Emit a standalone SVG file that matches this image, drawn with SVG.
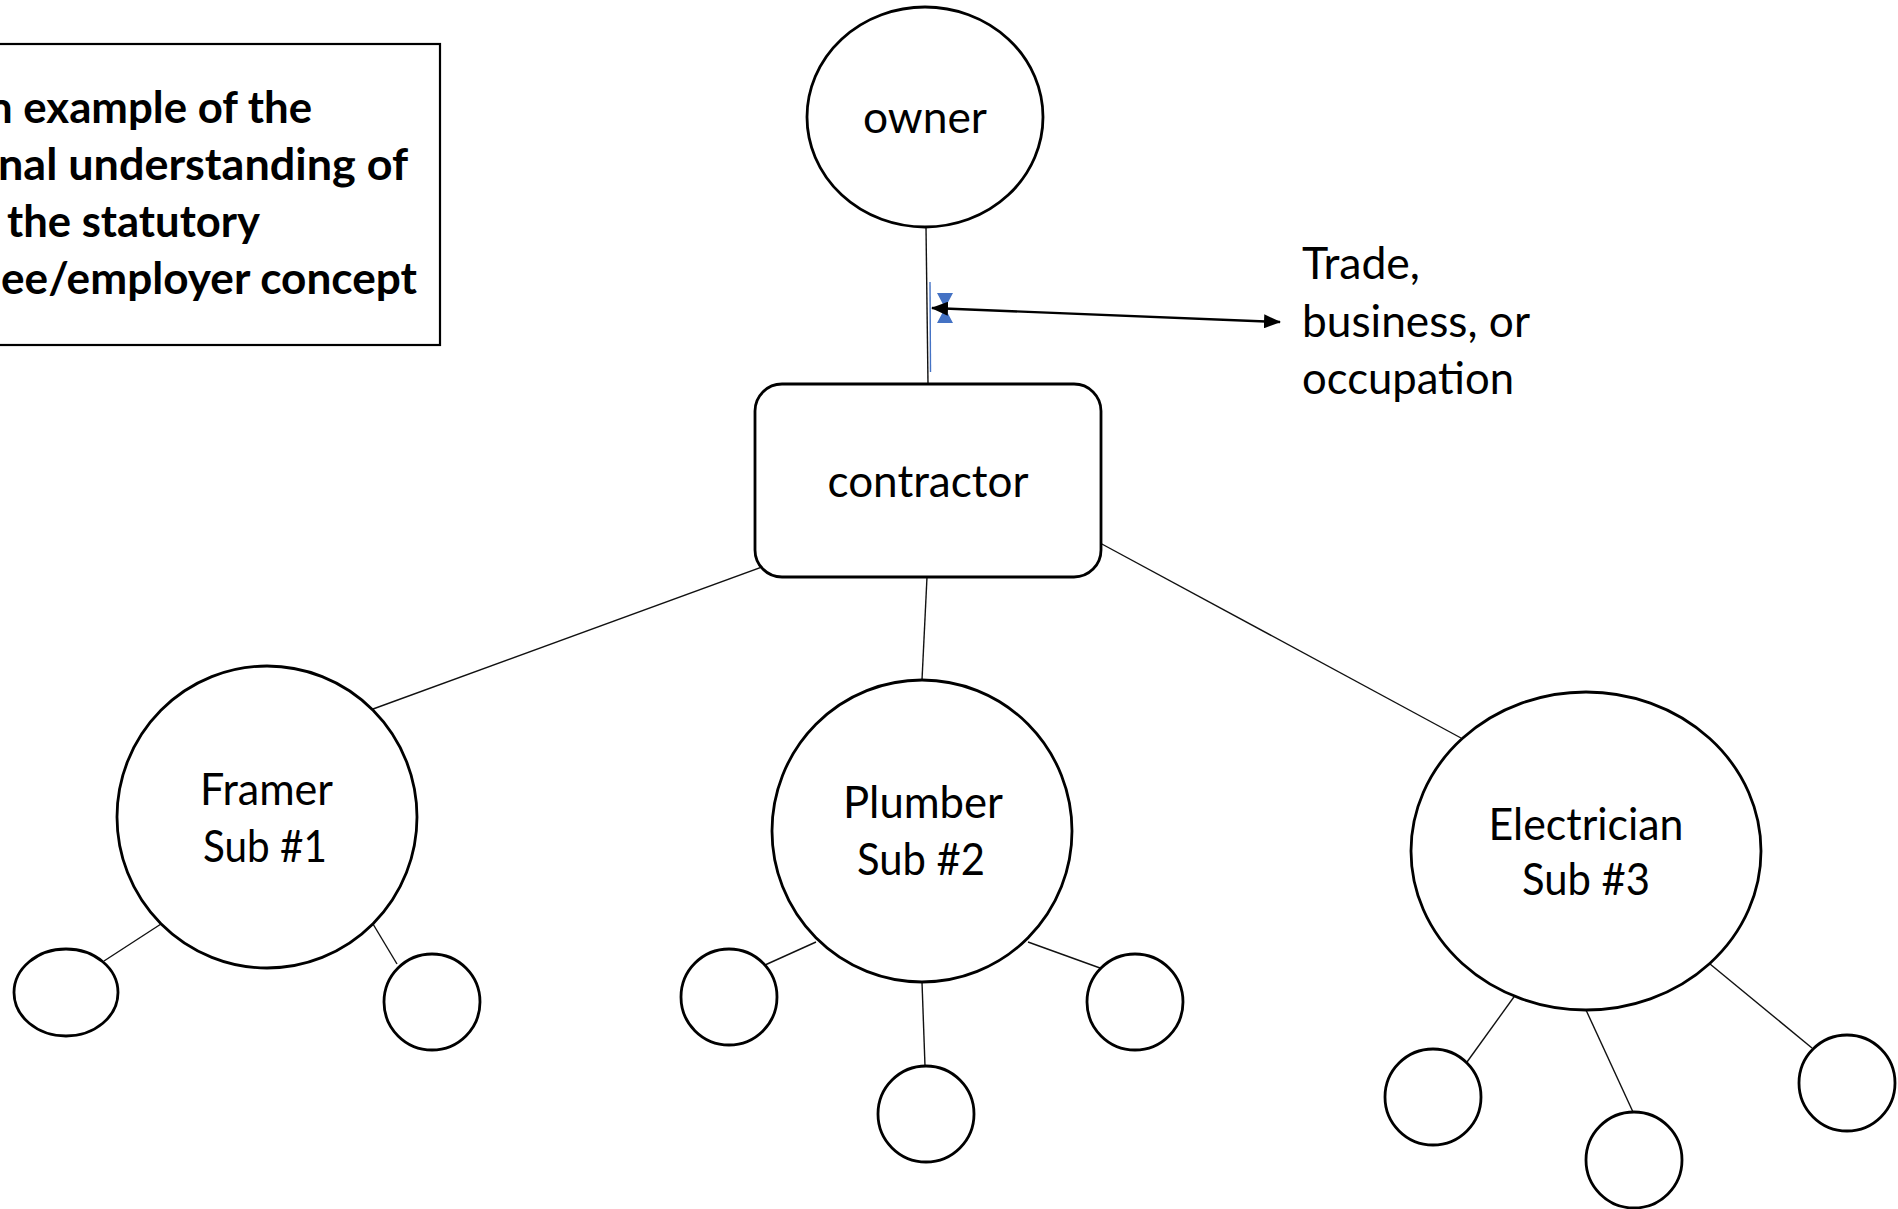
<svg xmlns="http://www.w3.org/2000/svg" width="1898" height="1209" viewBox="0 0 1898 1209">
<style>
  .node { fill: #ffffff; stroke: #000000; stroke-width: 2.8; }
  .conn { stroke: #111111; stroke-width: 1.4; fill: none; }
  .lbl { font-family: Lato, "Open Sans", "Liberation Sans", sans-serif; font-size: 44px; fill: #000000; }
  .ctr { text-anchor: middle; }
  .bold { font-family: Lato, "Open Sans", "Liberation Sans", sans-serif; font-size: 44px; font-weight: bold; fill: #000000; }
</style>
<defs>
  <marker id="ah" markerUnits="userSpaceOnUse" markerWidth="17" markerHeight="14" refX="16" refY="7" orient="auto-start-reverse">
    <path d="M0,0 L17,7 L0,14 Z" fill="#000000"/>
  </marker>
</defs>
<rect width="1898" height="1209" fill="#ffffff"/>

<g id="title-box">
  <rect x="-10" y="44" width="450" height="301" fill="#ffffff" stroke="#000000" stroke-width="2.2"/>
  <text class="bold" x="-12" y="123" textLength="324" lengthAdjust="spacingAndGlyphs">n example of the</text>
  <text class="bold" x="-2" y="180" textLength="410" lengthAdjust="spacingAndGlyphs">nal understanding of</text>
  <text class="bold" x="7" y="237" textLength="253" lengthAdjust="spacingAndGlyphs">the statutory</text>
  <text class="bold" x="1" y="294" textLength="416" lengthAdjust="spacingAndGlyphs">ee/employer concept</text>
</g>

<g id="connectors">
  <line class="conn" x1="926" y1="227" x2="928" y2="384" stroke="#1b2233"/>
  <line x1="930" y1="282" x2="930.5" y2="372" stroke="#4472C4" stroke-width="1.4"/>
  <line class="conn" x1="773" y1="563" x2="373" y2="709"/>
  <line class="conn" x1="927" y1="577" x2="922" y2="680"/>
  <line class="conn" x1="1100" y1="543" x2="1461" y2="738"/>
  <line class="conn" x1="161" y1="924" x2="104" y2="961"/>
  <line class="conn" x1="373" y1="924" x2="397" y2="964"/>
  <line class="conn" x1="816" y1="942" x2="765" y2="965"/>
  <line class="conn" x1="922" y1="982" x2="925" y2="1066"/>
  <line class="conn" x1="1028" y1="942" x2="1100" y2="968"/>
  <line class="conn" x1="1524" y1="983" x2="1467" y2="1062"/>
  <line class="conn" x1="1586" y1="1010" x2="1633" y2="1112"/>
  <line class="conn" x1="1710" y1="964" x2="1812" y2="1048"/>
  <path d="M937,293 L953,293 L945,308 L953,323 L937,323 L945,308 Z" fill="#4472C4"/>
  <line x1="932" y1="308" x2="1280" y2="322" stroke="#000000" stroke-width="2.4" marker-start="url(#ah)" marker-end="url(#ah)"/>
</g>

<g id="owner">
  <ellipse class="node" cx="925" cy="117" rx="118" ry="110"/>
  <text class="lbl ctr" x="925" y="133" textLength="124" lengthAdjust="spacingAndGlyphs">owner</text>
</g>

<g id="trade-label">
  <text class="lbl" x="1302" y="279" textLength="118" lengthAdjust="spacingAndGlyphs">Trade,</text>
  <text class="lbl" x="1302" y="337" textLength="228" lengthAdjust="spacingAndGlyphs">business, or</text>
  <text class="lbl" x="1302" y="394" textLength="212" lengthAdjust="spacingAndGlyphs">occupation</text>
</g>

<g id="contractor">
  <rect class="node" x="755" y="384" width="346" height="193" rx="27" ry="27"/>
  <text class="lbl ctr" x="928" y="497" textLength="201" lengthAdjust="spacingAndGlyphs">contractor</text>
</g>

<g id="framer">
  <ellipse class="node" cx="267" cy="817" rx="150" ry="151"/>
  <text class="lbl ctr" x="266.5" y="805" textLength="133" lengthAdjust="spacingAndGlyphs">Framer</text>
  <text class="lbl ctr" x="265" y="862" textLength="124" lengthAdjust="spacingAndGlyphs">Sub #1</text>
</g>

<g id="plumber">
  <ellipse class="node" cx="922" cy="831" rx="150" ry="151"/>
  <text class="lbl ctr" x="923" y="818" textLength="160" lengthAdjust="spacingAndGlyphs">Plumber</text>
  <text class="lbl ctr" x="921" y="875" textLength="128" lengthAdjust="spacingAndGlyphs">Sub #2</text>
</g>

<g id="electrician">
  <ellipse class="node" cx="1586" cy="851" rx="175" ry="159"/>
  <text class="lbl ctr" x="1586" y="840" textLength="195" lengthAdjust="spacingAndGlyphs">Electrician</text>
  <text class="lbl ctr" x="1586" y="895" textLength="128" lengthAdjust="spacingAndGlyphs">Sub #3</text>
</g>

<g id="framer-sub-a"><ellipse class="node" cx="66" cy="992.5" rx="52" ry="43.5"/></g>
<g id="framer-sub-b"><ellipse class="node" cx="432" cy="1002" rx="48" ry="48"/></g>
<g id="plumber-sub-a"><ellipse class="node" cx="729" cy="997" rx="48" ry="48"/></g>
<g id="plumber-sub-b"><ellipse class="node" cx="926" cy="1114" rx="48" ry="48"/></g>
<g id="plumber-sub-c"><ellipse class="node" cx="1135" cy="1002" rx="48" ry="48"/></g>
<g id="electrician-sub-a"><ellipse class="node" cx="1433" cy="1097" rx="48" ry="48"/></g>
<g id="electrician-sub-b"><ellipse class="node" cx="1634" cy="1160" rx="48" ry="48"/></g>
<g id="electrician-sub-c"><ellipse class="node" cx="1847" cy="1083" rx="48" ry="48"/></g>
</svg>
